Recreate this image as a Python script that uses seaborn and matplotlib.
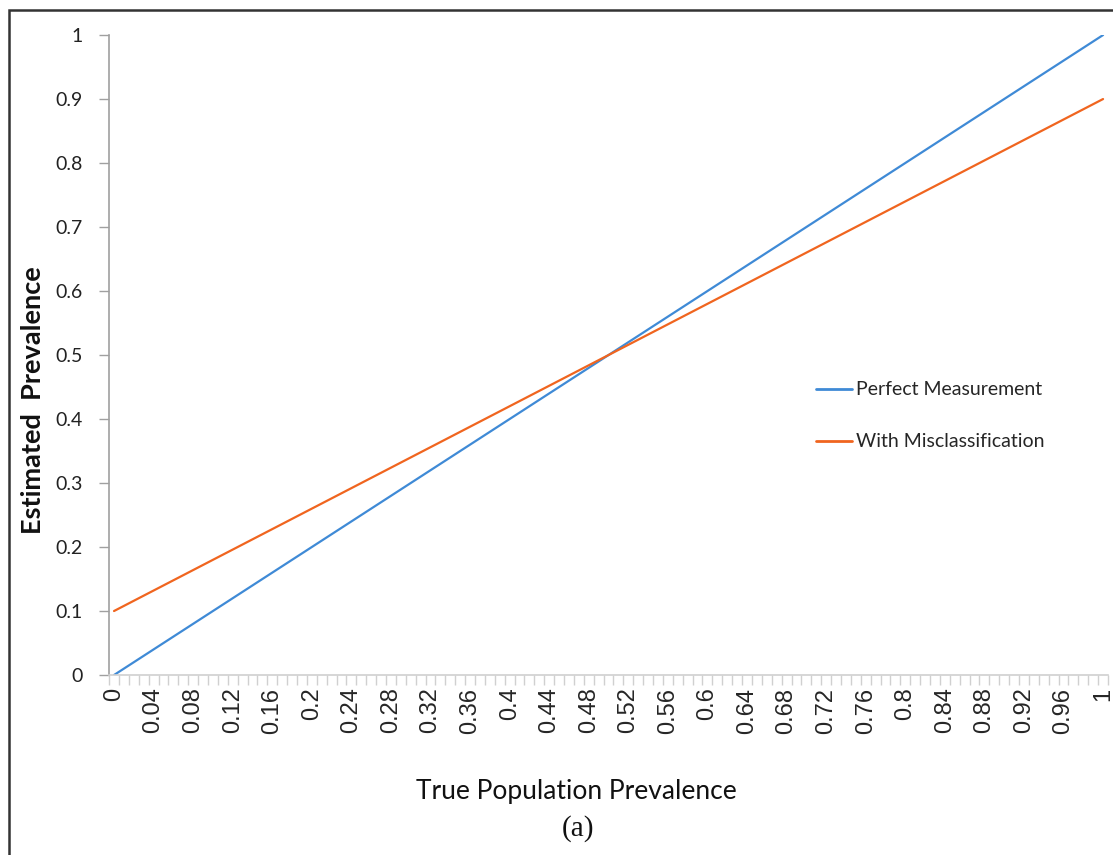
import numpy as np
import pandas as pd
import seaborn as sns
import matplotlib.pyplot as plt
from matplotlib.patches import Rectangle

# data
true_prev = [
    0.00, 0.01, 0.02, 0.03, 0.04, 0.05, 0.06, 0.07, 0.08, 0.09,
    0.10, 0.11, 0.12, 0.13, 0.14, 0.15, 0.16, 0.17, 0.18, 0.19,
    0.20, 0.21, 0.22, 0.23, 0.24, 0.25, 0.26, 0.27, 0.28, 0.29,
    0.30, 0.31, 0.32, 0.33, 0.34, 0.35, 0.36, 0.37, 0.38, 0.39,
    0.40, 0.41, 0.42, 0.43, 0.44, 0.45, 0.46, 0.47, 0.48, 0.49,
    0.50, 0.51, 0.52, 0.53, 0.54, 0.55, 0.56, 0.57, 0.58, 0.59,
    0.60, 0.61, 0.62, 0.63, 0.64, 0.65, 0.66, 0.67, 0.68, 0.69,
    0.70, 0.71, 0.72, 0.73, 0.74, 0.75, 0.76, 0.77, 0.78, 0.79,
    0.80, 0.81, 0.82, 0.83, 0.84, 0.85, 0.86, 0.87, 0.88, 0.89,
    0.90, 0.91, 0.92, 0.93, 0.94, 0.95, 0.96, 0.97, 0.98, 0.99,
    1.00,
]

perfect = [
    0.00, 0.01, 0.02, 0.03, 0.04, 0.05, 0.06, 0.07, 0.08, 0.09,
    0.10, 0.11, 0.12, 0.13, 0.14, 0.15, 0.16, 0.17, 0.18, 0.19,
    0.20, 0.21, 0.22, 0.23, 0.24, 0.25, 0.26, 0.27, 0.28, 0.29,
    0.30, 0.31, 0.32, 0.33, 0.34, 0.35, 0.36, 0.37, 0.38, 0.39,
    0.40, 0.41, 0.42, 0.43, 0.44, 0.45, 0.46, 0.47, 0.48, 0.49,
    0.50, 0.51, 0.52, 0.53, 0.54, 0.55, 0.56, 0.57, 0.58, 0.59,
    0.60, 0.61, 0.62, 0.63, 0.64, 0.65, 0.66, 0.67, 0.68, 0.69,
    0.70, 0.71, 0.72, 0.73, 0.74, 0.75, 0.76, 0.77, 0.78, 0.79,
    0.80, 0.81, 0.82, 0.83, 0.84, 0.85, 0.86, 0.87, 0.88, 0.89,
    0.90, 0.91, 0.92, 0.93, 0.94, 0.95, 0.96, 0.97, 0.98, 0.99,
    1.00,
]

misclass = [
    0.100, 0.108, 0.116, 0.124, 0.132, 0.140, 0.148, 0.156, 0.164, 0.172,
    0.180, 0.188, 0.196, 0.204, 0.212, 0.220, 0.228, 0.236, 0.244, 0.252,
    0.260, 0.268, 0.276, 0.284, 0.292, 0.300, 0.308, 0.316, 0.324, 0.332,
    0.340, 0.348, 0.356, 0.364, 0.372, 0.380, 0.388, 0.396, 0.404, 0.412,
    0.420, 0.428, 0.436, 0.444, 0.452, 0.460, 0.468, 0.476, 0.484, 0.492,
    0.500, 0.508, 0.516, 0.524, 0.532, 0.540, 0.548, 0.556, 0.564, 0.572,
    0.580, 0.588, 0.596, 0.604, 0.612, 0.620, 0.628, 0.636, 0.644, 0.652,
    0.660, 0.668, 0.676, 0.684, 0.692, 0.700, 0.708, 0.716, 0.724, 0.732,
    0.740, 0.748, 0.756, 0.764, 0.772, 0.780, 0.788, 0.796, 0.804, 0.812,
    0.820, 0.828, 0.836, 0.844, 0.852, 0.860, 0.868, 0.876, 0.884, 0.892,
    0.900,
]

series_names = ["Perfect Measurement", "With Misclassification"]
colors = {"Perfect Measurement": "#3F8AD6", "With Misclassification": "#F0651F"}

x_tick_labels = ["0", "0.04", "0.08", "0.12", "0.16", "0.2", "0.24", "0.28", "0.32",
                 "0.36", "0.4", "0.44", "0.48", "0.52", "0.56", "0.6", "0.64", "0.68",
                 "0.72", "0.76", "0.8", "0.84", "0.88", "0.92", "0.96", "1"]
y_tick_labels = ["0", "0.1", "0.2", "0.3", "0.4", "0.5", "0.6", "0.7", "0.8", "0.9", "1"]

df = pd.DataFrame({
    "x": true_prev * 2,
    "y": perfect + misclass,
    "series": [series_names[0]] * len(perfect) + [series_names[1]] * len(misclass),
})

sns.set_theme(style="white")
plt.rcParams["font.family"] = ["Lato", "DejaVu Sans"]

fig = plt.figure(figsize=(11.13, 8.55), dpi=100)
ax = fig.add_axes([0.098, 0.2105, 0.8975, 0.7485])

sns.lineplot(data=df, x="x", y="y", hue="series", palette=colors, linewidth=1.6, ax=ax)

ax.set_xlim(-0.005, 1.005)
ax.set_ylim(0, 1)

# category style x axis: labels every 4th point, ticks at boundaries
ax.set_xticks(np.arange(0, 1.001, 0.04))
ax.set_xticklabels(x_tick_labels, rotation=90, family="Liberation Sans", fontsize=17)
ax.set_xticks(np.arange(-0.005, 1.006, 0.01), minor=True)
ax.tick_params(axis="x", which="major", length=0, pad=9)
ax.tick_params(axis="x", which="minor", length=7, width=1, color="#d0d0d0", bottom=True)

ax.set_yticks(np.arange(0, 1.001, 0.1))
ax.set_yticklabels(y_tick_labels, fontsize=14, color="#222222")
ax.tick_params(axis="y", length=7, width=1, color="#a0a0a0", left=True, pad=12)

for side in ["top", "right"]:
    ax.spines[side].set_visible(False)
ax.spines["left"].set_color("#a0a0a0")
ax.spines["left"].set_linewidth(1.2)
ax.spines["bottom"].set_color("#d0d0d0")
ax.spines["bottom"].set_linewidth(1.2)

ax.set_xlabel("")
ax.set_ylabel("")
fig.text(0.030, 0.532, "Estimated  Prevalence", rotation=90, fontsize=19.5,
         fontweight="bold", ha="center", va="center", color="#111111")
fig.text(0.5175, 0.074, "True Population Prevalence", fontsize=19,
         ha="center", va="center", color="#111111")
fig.text(0.519, 0.031, "(a)", fontsize=21, family="Liberation Serif",
         ha="center", va="center", color="#111111")

leg = ax.legend(loc="center left", bbox_to_anchor=(0.69, 0.405), frameon=False,
                fontsize=14, handlelength=1.85, handletextpad=0.2, labelspacing=1.8)
for line in leg.get_lines():
    line.set_linewidth(2)

# outer border around the figure
fig.add_artist(Rectangle((0.008, -0.1), 1.2, 0.1 + 0.988, transform=fig.transFigure,
                         fill=False, edgecolor="#333333", linewidth=1.8))

fig.savefig("out.png", dpi=100)
